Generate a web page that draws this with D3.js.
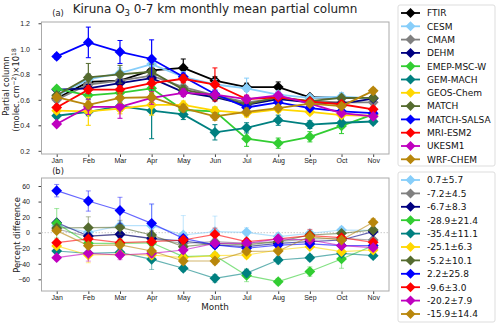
<!DOCTYPE html>
<html lang="en">
<head>
<meta charset="utf-8">
<title>Kiruna O3 partial column</title>
<style>
  html,body{margin:0;background:#fff}
  svg{display:block;font-family:"DejaVu Sans",sans-serif}
  .tick text{font-size:7px;fill:#222}
  .lab{font-size:8.3px;fill:#222}
  .leg text{font-size:9px;fill:#111}
</style>
<script src="https://d3js.org/d3.v7.min.js"></script>
</head>
<body>
<svg width="500" height="326"></svg>
<script>
// --- data ---
const months = ['Jan','Feb','Mar','Apr','May','Jun','Jul','Aug','Sep','Oct','Nov'];
const names  = ['FTIR','CESM','CMAM','DEHM','EMEP-MSC-W','GEM-MACH','GEOS-Chem','MATCH','MATCH-SALSA','MRI-ESM2','UKESM1','WRF-CHEM'];
const colors = ['#000000','#87cefa','#808080','#000080','#32cd32','#008080','#ffd700','#556b2f','#0000ff','#ff0000','#bf00bf','#b8860b'];

// partial column, 1e18 molec/cm2
const colFTIR  = [0.61,0.74,0.75,0.83,0.85,0.75,0.70,0.70,0.62,0.615,0.615];
const colCESM  = [0.63,0.76,0.81,0.88,0.78,0.72,0.69,0.64,0.615,0.625,0.61];
const colCMAM  = [0.60,0.72,0.75,0.79,0.70,0.635,0.58,0.61,0.59,0.58,0.58];
const colDEHM  = [0.68,0.69,0.73,0.77,0.66,0.62,0.56,0.605,0.58,0.57,0.61];
const colEMEP  = [0.685,0.635,0.655,0.69,0.52,0.51,0.295,0.26,0.31,0.395,0.485];
const colGEM   = [0.475,0.505,0.55,0.515,0.485,0.345,0.38,0.44,0.405,0.42,0.43];
const colGEOS  = [0.515,0.51,0.53,0.56,0.56,0.515,0.495,0.525,0.505,0.48,0.475];
const colMATCH = [0.635,0.775,0.80,0.82,0.68,0.63,0.565,0.62,0.59,0.615,0.615];
const colSALSA = [0.94,1.05,0.975,0.92,0.78,0.645,0.54,0.58,0.535,0.51,0.495];
const colMRI   = [0.54,0.68,0.68,0.73,0.765,0.72,0.605,0.62,0.585,0.565,0.525];
const colUKESM = [0.41,0.545,0.545,0.615,0.655,0.64,0.605,0.635,0.57,0.495,0.47];
const colWRF   = [0.62,0.56,0.615,0.62,0.535,0.47,0.505,0.535,0.57,0.55,0.67];

const errFTIR  = [0.02,0.06,0.05,0.05,0.07,0.03,0.03,0.04,0.02,0.02,0.02];
const errCESM  = [0.02,0.04,0.04,0.05,0.04,0.04,0.08,0.03,0.02,0.03,0.02];
const errCMAM  = [0.02,0.08,0.06,0.06,0.03,0.03,0.03,0.02,0.02,0.02,0.02];
const errDEHM  = [0.02,0.03,0.03,0.03,0.02,0.02,0.02,0.02,0.02,0.02,0.02];
const errEMEP  = [0.02,0.03,0.03,0.04,0.03,0.03,0.06,0.04,0.04,0.06,0.03];
const errGEM   = [0.02,0.03,0.04,0.22,0.04,0.06,0.04,0.04,0.03,0.03,0.02];
const errGEOS  = [0.02,0.11,0.04,0.08,0.03,0.03,0.03,0.02,0.02,0.02,0.02];
const errMATCH = [0.02,0.11,0.07,0.06,0.03,0.03,0.03,0.02,0.02,0.02,0.02];
const errSALSA = [0.02,0.12,0.09,0.15,0.03,0.03,0.03,0.02,0.02,0.02,0.02];
const errMRI   = [0.02,0.03,0.03,0.04,0.03,0.13,0.03,0.02,0.02,0.02,0.02];
const errUKESM = [0.02,0.06,0.09,0.05,0.03,0.03,0.03,0.02,0.02,0.02,0.02];
const errWRF   = [0.02,0.03,0.04,0.04,0.03,0.03,0.03,0.02,0.02,0.02,0.02];

// percent difference vs FTIR
const pctCESM  = [9,0.4,9,9,-3,1.3,0.4,-5,-0.8,3.4,3];
const pctCMAM  = [4.7,-5,-2,-8,-13.7,-11.6,-13.7,-11.6,-8.1,-7.3,-9.4];
const pctDEHM  = [12.9,-4.3,-2.1,-7.3,-10.7,-15.8,-18,-13.7,-11.6,-9.4,1.3];
const pctEMEP  = [12,-13.7,-13.7,-13,-30.8,-29.6,-55,-63,-50,-33.8,-16.7];
const pctGEM   = [-23.6,-26.6,-25.3,-34.3,-45.8,-58.7,-52,-35.1,-32.1,-26.6,-29.6];
const pctGEOS  = [-17,-28.7,-27.8,-28.7,-32.1,-29.6,-28.7,-22.3,-18,-24.4,-22.3];
const pctMATCH = [6,6.4,6.9,-3,-18,-13.7,-15.8,-11.6,-3,-0.8,3.4];
const pctSALSA = [54,40.7,28.5,12,-7.3,-15.8,-20,-16,-14.4,-16.6,-16.6];
const pctMRI   = [-12.8,-8.1,-12.8,-11.6,-9.4,-2.1,-11.6,-8.1,-3.8,-6.4,-12.4];
const pctUKESM = [-32.1,-26.6,-28.7,-26.6,-22.3,-13.7,-13.7,-8.1,-9.4,-16.7,-19.3];
const pctWRF   = [2.6,-16.7,-15.8,-23.6,-36.4,-36.4,-24,-23.6,-5,-9.4,13.3];

const pErrCESM  = [4,5,5,27,25,20,6,4,4,4,3];
const pErrCMAM  = [4,14,8,8,4,4,4,3,3,3,3];
const pErrDEHM  = [3,4,4,4,3,3,3,3,3,3,3];
const pErrEMEP  = [19,6,6,6,4,4,8,4,6,12,4];
const pErrGEM   = [3,4,5,13,4,5,5,5,4,4,3];
const pErrGEOS  = [3,10,4,5,4,4,4,3,3,3,3];
const pErrMATCH = [4,14,9,6,4,4,4,3,3,3,3];
const pErrSALSA = [8,13,17,25,4,4,4,3,3,3,3];
const pErrMRI   = [3,4,4,5,4,8,4,3,8,3,3];
const pErrUKESM = [3,10,6,5,4,4,4,3,3,3,3];
const pErrWRF   = [3,4,5,5,4,4,4,3,6,3,5];

const pctLabels = ['0.7\u00b15.7','-7.2\u00b14.5','-6.7\u00b18.3','-28.9\u00b121.4','-35.4\u00b111.1','-25.1\u00b16.3','-5.2\u00b110.1','2.2\u00b125.8','-9.6\u00b13.0','-20.2\u00b17.9','-15.9\u00b114.4'];

const colSeries = [colFTIR,colCESM,colCMAM,colDEHM,colEMEP,colGEM,colGEOS,colMATCH,colSALSA,colMRI,colUKESM,colWRF];
const colErrs   = [errFTIR,errCESM,errCMAM,errDEHM,errEMEP,errGEM,errGEOS,errMATCH,errSALSA,errMRI,errUKESM,errWRF];
const pctSeries = [pctCESM,pctCMAM,pctDEHM,pctEMEP,pctGEM,pctGEOS,pctMATCH,pctSALSA,pctMRI,pctUKESM,pctWRF];
const pctErrs   = [pErrCESM,pErrCMAM,pErrDEHM,pErrEMEP,pErrGEM,pErrGEOS,pErrMATCH,pErrSALSA,pErrMRI,pErrUKESM,pErrWRF];

// --- layout ---
const svg = d3.select('svg');
const L = 41.5, R = 389;
const x = d3.scaleLinear().domain([-0.48,10.5]).range([L,R]);
const yA = d3.scaleLinear().domain([0.175,1.21]).range([154,22]);
const yB = d3.scaleLinear().domain([-75,70.3]).range([291,178]);

const diamond = r => `M0,${-r}L${r},0L0,${r}L${-r},0Z`;

function frame(y, top, bottom, ticks, fmt){
  const g = svg.append('g');
  g.append('g').attr('transform',`translate(${L},0)`)
    .call(d3.axisLeft(y).tickValues(ticks).tickSize(3).tickPadding(8.5).tickFormat(fmt))
    .call(a=>a.select('.domain').remove())
    .call(a=>a.selectAll('line').attr('stroke','#444'));
  g.append('g').attr('transform',`translate(0,${bottom})`)
    .call(d3.axisBottom(x).tickValues(d3.range(11)).tickSize(3).tickPadding(1.5).tickFormat(i=>months[i]))
    .call(a=>a.select('.domain').remove())
    .call(a=>a.selectAll('line').attr('stroke','#444'));
  g.append('rect').attr('x',L).attr('y',top).attr('width',R-L).attr('height',bottom-top)
    .attr('fill','none').attr('stroke','#aaa').attr('stroke-width',1);
}

function series(y, vals, errs, color, opts){
  const g = svg.append('g');
  const line = d3.line().x((d,i)=>x(i)).y(d=>y(d));
  g.append('path').datum(vals).attr('d',line).attr('fill','none')
    .attr('stroke',color).attr('stroke-width',opts.lw).attr('stroke-opacity',opts.alpha);
  vals.forEach((v,i)=>{
    const e = errs[i], cx = x(i);
    g.append('line').attr('x1',cx).attr('x2',cx).attr('y1',y(v-e)).attr('y2',y(v+e))
      .attr('stroke',color).attr('stroke-width',1.2).attr('stroke-opacity',opts.ealpha);
    [v-e,v+e].forEach(c=>g.append('line').attr('x1',cx-2.5).attr('x2',cx+2.5).attr('y1',y(c)).attr('y2',y(c))
      .attr('stroke',color).attr('stroke-width',1).attr('stroke-opacity',opts.ealpha));
  });
  g.selectAll('path.m').data(vals).join('path').attr('class','m')
    .attr('transform',(d,i)=>`translate(${x(i)},${y(d)})`).attr('d',diamond(5.4)).attr('fill',color);
}

// panel (a)
frame(yA,22,154,[0.2,0.4,0.6,0.8,1.0,1.2],d3.format('.1f'));
colSeries.forEach((s,k)=>series(yA,s,colErrs[k],colors[k],{lw:1.8,alpha:1,ealpha:1}));

// panel (b)
frame(yB,178,291,[-60,-40,-20,0,20,40,60],d=>d<0?'\u2212'+Math.abs(d):d);
svg.append('line').attr('x1',L).attr('x2',R).attr('y1',yB(0)).attr('y2',yB(0))
  .attr('stroke','#ccc').attr('stroke-dasharray','1.5,1.5');
pctSeries.forEach((s,k)=>series(yB,s,pctErrs[k],colors[k+1],{lw:1.2,alpha:0.6,ealpha:0.45}));

// text
const title = svg.append('text').attr('class','lab').attr('x',215).attr('y',13).attr('text-anchor','middle').style('font-size','12px');
title.append('tspan').text('Kiruna O');
title.append('tspan').text('3').attr('dy',3).style('font-size','8.5px');
title.append('tspan').text(' 0-7 km monthly mean partial column').attr('dy',-3);
svg.append('text').attr('class','lab').attr('x',58).attr('y',15.5).attr('text-anchor','middle').text('(a)');
svg.append('text').attr('class','lab').attr('x',58).attr('y',173.5).attr('text-anchor','middle').text('(b)');

const ya = svg.append('text').attr('class','lab').attr('transform','translate(9,86) rotate(-90)').attr('text-anchor','middle');
ya.append('tspan').text('Partial column');
const ya2 = svg.append('text').attr('class','lab').attr('transform','translate(19,90) rotate(-90)').attr('text-anchor','middle');
ya2.append('tspan').text('(molec. cm');
ya2.append('tspan').text('\u22122').attr('dy',-3.5).style('font-size','6px');
ya2.append('tspan').text(')\u00d710').attr('dy',3.5);
ya2.append('tspan').text('18').attr('dy',-3.5).style('font-size','6px');
svg.append('text').attr('class','lab').attr('transform','translate(20,235) rotate(-90)').attr('text-anchor','middle').text('Percent difference');
svg.append('text').attr('class','lab').attr('x',215).attr('y',309.5).attr('text-anchor','middle').style('font-size','8.8px').text('Month');

// legends
function legend(top, bottom, labels, cols, step){
  const g = svg.append('g').attr('class','leg');
  g.append('rect').attr('x',398).attr('y',top).attr('width',97).attr('height',bottom-top).attr('rx',2)
    .attr('fill','#fff').attr('stroke','#ddd');
  labels.forEach((t,i)=>{
    const yy = top+8+i*step;
    g.append('line').attr('x1',401).attr('x2',420).attr('y1',yy).attr('y2',yy).attr('stroke',cols[i]).attr('stroke-width',1.8);
    g.append('path').attr('transform',`translate(410.5,${yy})`).attr('d',diamond(5)).attr('fill',cols[i]);
    g.append('text').attr('x',427).attr('y',yy+3.3).text(t);
  });
}
legend(5,166,names,colors,13.3);
legend(172,322,pctLabels,colors.slice(1),13.4);
</script>
</body>
</html>
